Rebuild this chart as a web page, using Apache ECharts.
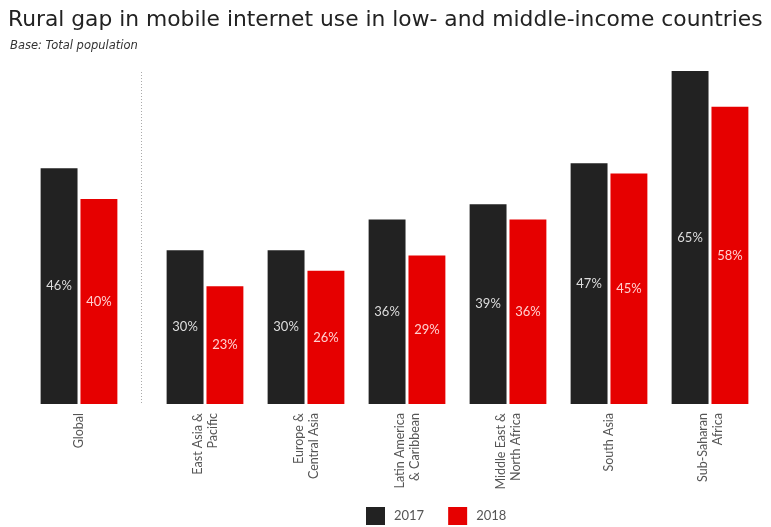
<!DOCTYPE html>
<html><head><meta charset="utf-8">
<script src="https://cdn.jsdelivr.net/npm/echarts@6/dist/echarts.min.js"></script>
<style>html,body{margin:0;padding:0;background:#fff}#c{width:771px;height:527px}</style>
</head><body><div id="c"></div>
<script>
const categories = ['Global','East Asia &\nPacific','Europe &\nCentral Asia','Latin America\n& Caribbean','Middle East &\nNorth Africa','South Asia','Sub-Saharan\nAfrica'];
const values2017 = [46,30,30,36,39,47,65];
const values2018 = [40,23,26,29,36,45,58];
const seriesNames = ['2017','2018'];

const c2017 = '#222222', c2018 = '#e60000';
const chart = echarts.init(document.getElementById('c'));
const font = 'Lato';
const axisLabel = {rotate:90, color:'#555', fontSize:12.5, fontFamily:font, margin:9, lineHeight:15, interval:0};
function xa(gi, cats){return {type:'category', gridIndex:gi, data:cats, axisLine:{show:false}, axisTick:{show:false}, axisLabel};}
function ya(gi){return {type:'value', gridIndex:gi, min:0, max:65, show:false};}
function bar(name, gi, data, color, lblColor){
  return {name, type:'bar', xAxisIndex:gi, yAxisIndex:gi, data, barGap:'8%', barCategoryGap:'24%',
    itemStyle:{color}, label:{show:true, position:'inside', formatter:'{c}%', color:lblColor, fontSize:13, fontFamily:font}};
}
chart.setOption({
  animation:false,
  title:[{text:'Rural gap in mobile internet use in low- and middle-income countries', left:3, top:4,
    textStyle:{fontFamily:'DejaVu Sans', fontWeight:'normal', fontSize:21.8, color:'#222'}},
    {text:'Base: Total population', left:5, top:35, textStyle:{fontFamily:'DejaVu Sans', fontStyle:'italic', fontWeight:'normal', fontSize:11.5, color:'#333'}}],
  legend:{data:seriesNames, top:502, left:361, itemWidth:19, itemHeight:18, itemGap:24,
    textStyle:{fontFamily:font, fontSize:13, color:'#555', padding:[0,0,0,4]}, icon:'rect'},
  grid:[{left:28.5, width:101, top:71, bottom:123},{left:154.5, width:606, top:71, bottom:123}],
  xAxis:[xa(0, categories.slice(0,1)), xa(1, categories.slice(1))],
  yAxis:[ya(0), ya(1)],
  series:[
    bar(seriesNames[0],0,values2017.slice(0,1),c2017,'#dddddd'),
    bar(seriesNames[1],0,values2018.slice(0,1),c2018,'#ffd0d0'),
    bar(seriesNames[0],1,values2017.slice(1),c2017,'#dddddd'),
    bar(seriesNames[1],1,values2018.slice(1),c2018,'#ffd0d0')
  ],
  graphic:[{type:'line', shape:{x1:141.5,y1:72,x2:141.5,y2:404}, style:{stroke:'#aaa', lineWidth:1, lineDash:[1,2]}}]
});
</script></body></html>
